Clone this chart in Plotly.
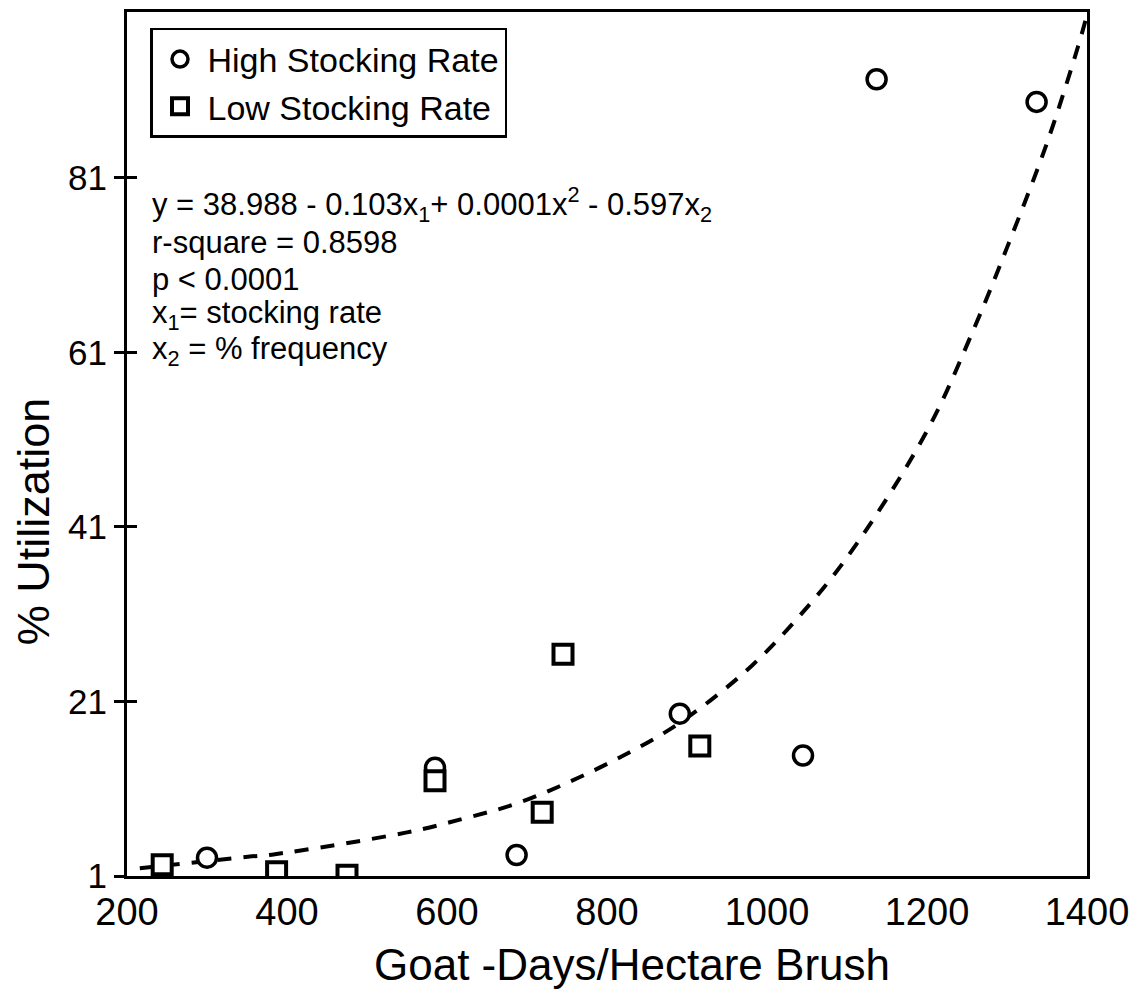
import plotly.graph_objects as go

# Data
high_x = [300, 585, 687, 891, 1045, 1137, 1337]
high_y = [3.1, 13.4, 3.4, 19.6, 14.8, 92.3, 89.7]

low_x = [244, 387, 475, 585, 719, 745, 916]
low_y = [2.3, 1.5, 1.1, 11.9, 8.3, 26.4, 15.9]

fit_x = [216, 351, 385, 550, 622, 687, 751, 814, 875, 929, 981, 1029, 1100, 1200, 1260, 1300, 1350, 1389, 1398]
fit_y = [1.9, 3.2, 3.5, 6.0, 7.6, 9.3, 11.7, 14.5, 17.6, 21.1, 25.1, 29.6, 37.5, 52.0, 64.0, 73.0, 85.0, 96.1, 99.0]

x_ticks = [200, 400, 600, 800, 1000, 1200, 1400]
y_ticks = [1, 21, 41, 61, 81]

x_title = "Goat -Days/Hectare Brush"
y_title = "% Utilization"

eq_lines = [
    "y = 38.988 - 0.103x<sub>1</sub>+ 0.0001x<sup>2</sup> - 0.597x<sub>2</sub>",
    "r-square = 0.8598",
    "p < 0.0001",
    "x<sub>1</sub>= stocking rate",
    "x<sub>2</sub> = % frequency",
]

FONT = "Liberation Sans, Arial, Helvetica, sans-serif"

fig = go.Figure()

fig.add_trace(go.Scatter(
    x=fit_x, y=fit_y, mode="lines", line_shape="spline",
    line=dict(color="black", width=4, dash="14px,12px"),
    showlegend=False, hoverinfo="skip",
))

fig.add_trace(go.Scatter(
    x=high_x, y=high_y, mode="markers", name="High Stocking Rate",
    marker=dict(symbol="circle", size=19, color="white",
                line=dict(color="black", width=3.5)),
))

fig.add_trace(go.Scatter(
    x=low_x, y=low_y, mode="markers", name="Low Stocking Rate",
    marker=dict(symbol="square", size=19, color="white",
                line=dict(color="black", width=4)),
))

# invisible trace for the overlay axis that draws the inner half of the y ticks
fig.add_trace(go.Scatter(x=[None], y=[None], yaxis="y2", showlegend=False,
                         hoverinfo="skip"))

# plot-area geometry (pixels) for placing text
L, R, T, B = 127, 1087, 9, 876
H = B - T
W = R - L

def py(p):
    return (B - p) / H

def px(p):
    return (p - L) / W

line_y = [202, 240, 277, 313, 349]
for txt, yy in zip(eq_lines, line_y):
    fig.add_annotation(
        text=txt, xref="paper", yref="paper", x=px(150), y=py(yy),
        xanchor="left", yanchor="middle", showarrow=False,
        font=dict(family=FONT, size=31, color="black"),
    )

# axis titles
fig.add_annotation(
    text=x_title, xref="paper", yref="paper", x=px(632), y=py(965),
    xanchor="center", yanchor="middle", showarrow=False,
    font=dict(family=FONT, size=44, color="black"),
)
fig.add_annotation(
    text=y_title, xref="paper", yref="paper", x=px(33), y=py(520),
    xanchor="center", yanchor="middle", showarrow=False, textangle=-90,
    font=dict(family=FONT, size=45, color="black"),
)

fig.update_layout(
    width=1144, height=1005,
    margin=dict(l=L, r=1144 - R, t=T, b=1005 - B),
    paper_bgcolor="white", plot_bgcolor="white",
    font=dict(family=FONT, color="black"),
    showlegend=True,
    legend=dict(
        x=px(150), y=py(25), xanchor="left", yanchor="top",
        bgcolor="white", bordercolor="black", borderwidth=2.5,
        font=dict(family=FONT, size=34, color="black"),
        itemwidth=45,
    ),
    xaxis=dict(
        range=[200, 1400], tickvals=x_ticks, ticks="",
        showgrid=False, zeroline=False,
        showline=True, linecolor="black", linewidth=3, mirror=True,
        tickfont=dict(family=FONT, size=38, color="black"),
    ),
    yaxis=dict(
        range=[1, 100], tickvals=y_ticks, ticks="outside", ticklen=10,
        tickwidth=3, tickcolor="black",
        showgrid=False, zeroline=False,
        showline=True, linecolor="black", linewidth=3, mirror=True,
        tickfont=dict(family=FONT, size=35, color="black"),
    ),
    yaxis2=dict(
        range=[1, 100], tickvals=y_ticks, ticks="inside", ticklen=10,
        tickwidth=3, tickcolor="black", showticklabels=False,
        overlaying="y", side="left", showgrid=False, zeroline=False,
        showline=False,
    ),
)

fig.write_html("out.html")
